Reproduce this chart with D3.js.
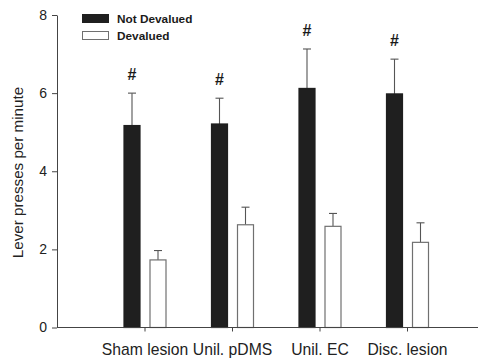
<!DOCTYPE html>
<html>
<head>
<meta charset="utf-8">
<script src="https://cdn.jsdelivr.net/npm/d3@7"></script>
<style>
  html, body { margin: 0; padding: 0; background: #fff; }
  svg { display: block; font-family: "Liberation Sans", Arial, Helvetica, sans-serif; }
</style>
</head>
<body>
<svg id="chart" width="478" height="359"></svg>
<script>
// Lever pressing after outcome devaluation, by lesion group
const categories = ["Sham lesion", "Unil. pDMS", "Unil. EC", "Disc. lesion"];
const seriesNames = ["Not Devalued", "Devalued"];
const notDevaluedMean = [5.17, 5.21, 6.12, 5.98];
const notDevaluedSem  = [0.83, 0.66, 1.01, 0.89];
const devaluedMean    = [1.73, 2.63, 2.59, 2.18];
const devaluedSem     = [0.24, 0.45, 0.33, 0.50];
const significant     = ["#", "#", "#", "#"];
const yTicks = [0, 2, 4, 6, 8];

const svg = d3.select("#chart");
const W = 478;

// Groups sit at positions 1..4 on a 0..5 axis
const x = d3.scaleLinear().domain([0, 5]).range([57, 494.5]);
const y = d3.scaleLinear().domain([0, 8]).range([327.5, 15]);
const inner = d3.scaleBand().domain(seriesNames).range([-21, 22]).paddingInner(9 / 26);

const fills = { "Not Devalued": "#1f1f1f", "Devalued": "#ffffff" };
const strokes = { "Not Devalued": "#1f1f1f", "Devalued": "#707070" };

const rows = [];
categories.forEach((c, i) => {
  rows.push({ cat: c, pos: i + 1, series: "Not Devalued", mean: notDevaluedMean[i], sem: notDevaluedSem[i] });
  rows.push({ cat: c, pos: i + 1, series: "Devalued", mean: devaluedMean[i], sem: devaluedSem[i] });
});

// Error bars (upper only), drawn under the bars
const err = svg.append("g").attr("stroke", "#555").attr("stroke-width", 1.1);
rows.forEach(d => {
  const cx = x(d.pos) + inner(d.series) + inner.bandwidth() / 2;
  err.append("line").attr("x1", cx).attr("x2", cx).attr("y1", y(d.mean)).attr("y2", y(d.mean + d.sem));
  err.append("line").attr("x1", cx - 4).attr("x2", cx + 4).attr("y1", y(d.mean + d.sem)).attr("y2", y(d.mean + d.sem));
});

// Bars
svg.append("g").selectAll("rect").data(rows).join("rect")
  .attr("x", d => x(d.pos) + inner(d.series) + 0.5)
  .attr("y", d => y(d.mean))
  .attr("width", inner.bandwidth() - 1)
  .attr("height", d => y(0) - y(d.mean))
  .attr("fill", d => fills[d.series])
  .attr("stroke", d => strokes[d.series])
  .attr("stroke-width", 1.2);

// Significance markers above the Not Devalued bars
svg.append("g").selectAll("text").data(rows.filter(d => d.series === "Not Devalued")).join("text")
  .attr("x", d => x(d.pos) + inner(d.series) + inner.bandwidth() / 2)
  .attr("y", (d, i) => y(d.mean + d.sem) - 13)
  .attr("text-anchor", "middle")
  .attr("font-size", 16)
  .attr("font-weight", "bold")
  .attr("fill", "#1a1a1a")
  .text((d, i) => significant[i]);

// Y axis
const yAxis = svg.append("g").attr("transform", "translate(57,0)")
  .call(d3.axisLeft(y).tickValues(yTicks).tickSize(5).tickPadding(5).tickSizeOuter(0));
yAxis.select(".domain").attr("stroke", "#444");
yAxis.selectAll(".tick line").attr("stroke", "#444");
yAxis.selectAll(".tick text").attr("font-size", 14).attr("fill", "#222")
  .attr("font-family", "Liberation Sans, Arial, sans-serif");

// X axis
const xAxis = svg.append("g").attr("transform", `translate(0,${y(0)})`)
  .call(d3.axisBottom(x).tickValues([1, 2, 3, 4]).tickFormat(v => categories[v - 1])
    .tickSize(4).tickPadding(12).tickSizeOuter(0));
xAxis.select(".domain").attr("d", `M57,0H${W}`).attr("stroke", "#444");
xAxis.selectAll(".tick line").attr("stroke", "#444");
xAxis.selectAll(".tick text").attr("font-size", 15.7).attr("fill", "#222")
  .attr("font-family", "Liberation Sans, Arial, sans-serif");

// Y axis title
svg.append("text")
  .attr("transform", "translate(22.5,172.5) rotate(-90)")
  .attr("text-anchor", "middle")
  .attr("font-size", 15.2)
  .attr("fill", "#222")
  .text("Lever presses per minute");

// Legend
const legend = svg.append("g");
seriesNames.forEach((s, i) => {
  const ly = 14 + i * 17;
  legend.append("rect").attr("x", 82.5).attr("y", ly + 0.5).attr("width", 26).attr("height", 8)
    .attr("fill", fills[s]).attr("stroke", strokes[s]).attr("stroke-width", 1);
  legend.append("text").attr("x", 117).attr("y", ly + 9)
    .attr("font-size", 11.8).attr("font-weight", "bold").attr("fill", "#1a1a1a")
    .text(s);
});
</script>
</body>
</html>
